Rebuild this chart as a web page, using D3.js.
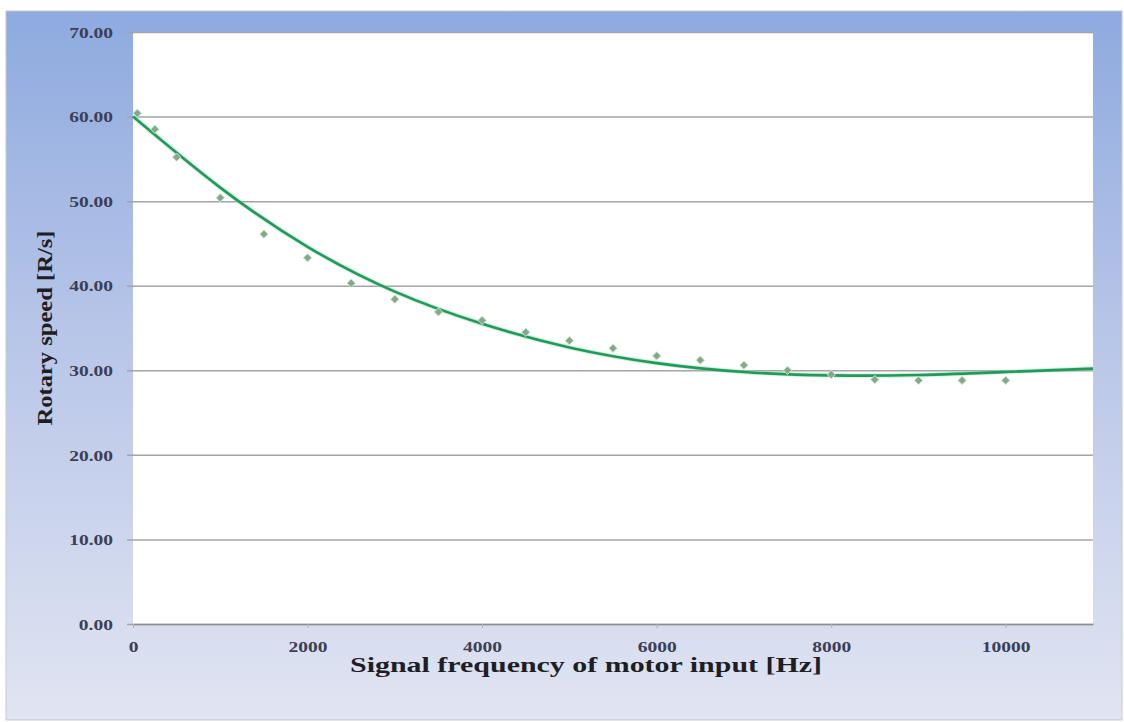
<!DOCTYPE html>
<html>
<head>
<meta charset="utf-8">
<script src="https://cdn.jsdelivr.net/npm/d3@7"></script>
<style>
  body { margin: 0; background: #fff; }
  text { font-family: "Liberation Serif", "DejaVu Serif", serif; font-weight: bold; }
</style>
</head>
<body>
<svg id="chart"></svg>
<script>
// measured points (frequency in Hz, speed in R/s)
var freq = [50, 250, 500, 1000, 1500, 2000, 2500, 3000, 3500, 4000, 4500, 5000,
            5500, 6000, 6500, 7000, 7500, 8000, 8500, 9000, 9500, 10000];
var speed = [60.4, 58.5, 55.2, 50.4, 46.1, 43.3, 40.3, 38.4, 36.9, 35.9, 34.5, 33.5,
             32.6, 31.7, 31.2, 30.6, 30.0, 29.5, 28.9, 28.8, 28.8, 28.8];
// trendline values
var trendFreq = [0, 1000, 2000, 3000, 4000, 5000, 6000, 7000, 8000, 9000, 10000, 11000];
var trendSpeed = [60.0, 51.6, 44.6, 39.3, 35.5, 32.7, 30.85, 29.8, 29.4, 29.45, 29.8, 30.2];
var xTicks = [0, 2000, 4000, 6000, 8000, 10000];
var yTicks = [0, 10, 20, 30, 40, 50, 60, 70];

var width = 1124, height = 722;
var plotL = 133, plotR = 1093, plotT = 32, plotB = 624;

var svg = d3.select('#chart').attr('width', width).attr('height', height);

var defs = svg.append('defs');
var grad = defs.append('linearGradient').attr('id', 'bg')
  .attr('x1', 0).attr('y1', 0).attr('x2', 0).attr('y2', 1);
grad.append('stop').attr('offset', '0%').attr('stop-color', '#8eaadf');
grad.append('stop').attr('offset', '45%').attr('stop-color', '#b7c5e8');
grad.append('stop').attr('offset', '100%').attr('stop-color', '#e1e5f2');

// chart background
svg.append('rect')
  .attr('x', 6).attr('y', 11).attr('width', 1116).attr('height', 709)
  .attr('fill', 'url(#bg)').attr('stroke', '#c3c7d0').attr('stroke-width', 1);

// plot area
svg.append('rect')
  .attr('x', plotL).attr('y', plotT).attr('width', plotR - plotL).attr('height', plotB - plotT)
  .attr('fill', '#ffffff');

var x = d3.scaleLinear().domain([0, 11000]).range([plotL, plotR]);
var y = d3.scaleLinear().domain([0, 70]).range([plotB, plotT]);

// stretch text horizontally (the source image is wider than tall text)
function stretch(sel, k) {
  sel.each(function() {
    var w = this.getComputedTextLength();
    d3.select(this).attr('textLength', w * k).attr('lengthAdjust', 'spacingAndGlyphs');
  });
}

// gridlines + y axis
var yAxis = svg.append('g')
  .attr('transform', 'translate(' + plotL + ',0)')
  .call(d3.axisLeft(y).tickValues(yTicks).tickSize(-(plotR - plotL)).tickSizeOuter(0)
    .tickFormat(function(d) { return d.toFixed(2); }));
yAxis.select('.domain').remove();
yAxis.selectAll('.tick line')
  .attr('x1', -6).attr('stroke', '#a4a4a4').attr('stroke-width', 1.5);
yAxis.selectAll('.tick text')
  .attr('x', -20).attr('dy', '0.35em')
  .attr('fill', '#3b4055').style('font-size', '15px')
  .call(stretch, 1.3);

// x axis
var xAxis = svg.append('g')
  .attr('transform', 'translate(0,' + plotB + ')')
  .call(d3.axisBottom(x).tickValues(xTicks).tickSize(4).tickSizeOuter(0)
    .tickFormat(function(d) { return d; }));
xAxis.select('.domain').attr('stroke', '#8f8f8f').attr('stroke-width', 1.5);
xAxis.selectAll('.tick line').attr('stroke', '#b0b0b0');
xAxis.selectAll('.tick text')
  .attr('y', 17).attr('dy', '0.71em')
  .attr('fill', '#3b4055').style('font-size', '15px')
  .call(stretch, 1.3);

// trendline
var trendLine = d3.line()
  .x(function(d) { return x(d); })
  .y(function(d, i) { return y(trendSpeed[i]); })
  .curve(d3.curveNatural);

svg.append('path')
  .datum(trendFreq)
  .attr('fill', 'none')
  .attr('stroke', '#8fe0ae').attr('stroke-width', 4.5).attr('stroke-opacity', 0.45)
  .attr('d', trendLine);
svg.append('path')
  .datum(trendFreq)
  .attr('fill', 'none')
  .attr('stroke', '#22995a').attr('stroke-width', 2.6)
  .attr('d', trendLine);

// data markers (diamonds)
svg.append('g').selectAll('path')
  .data(freq)
  .enter()
  .append('path')
  .attr('d', d3.symbol().type(d3.symbolDiamond2).size(44))
  .attr('transform', function(d, i) { return 'translate(' + x(d) + ',' + y(speed[i]) + ')'; })
  .attr('fill', '#86a889')
  .attr('stroke', '#c6e8cc').attr('stroke-width', 1);

// axis titles
svg.append('text')
  .attr('x', 586).attr('y', 672)
  .attr('text-anchor', 'middle')
  .attr('fill', '#1e1e24').style('font-size', '21px')
  .attr('textLength', 472).attr('lengthAdjust', 'spacingAndGlyphs')
  .text('Signal frequency of motor input [Hz]');

svg.append('text')
  .attr('transform', 'translate(52,' + ((plotT + plotB) / 2) + ') rotate(-90)')
  .attr('text-anchor', 'middle')
  .attr('fill', '#1e1e24').style('font-size', '21px')
  .attr('textLength', 195).attr('lengthAdjust', 'spacingAndGlyphs')
  .text('Rotary speed [R/s]');
</script>
</body>
</html>
